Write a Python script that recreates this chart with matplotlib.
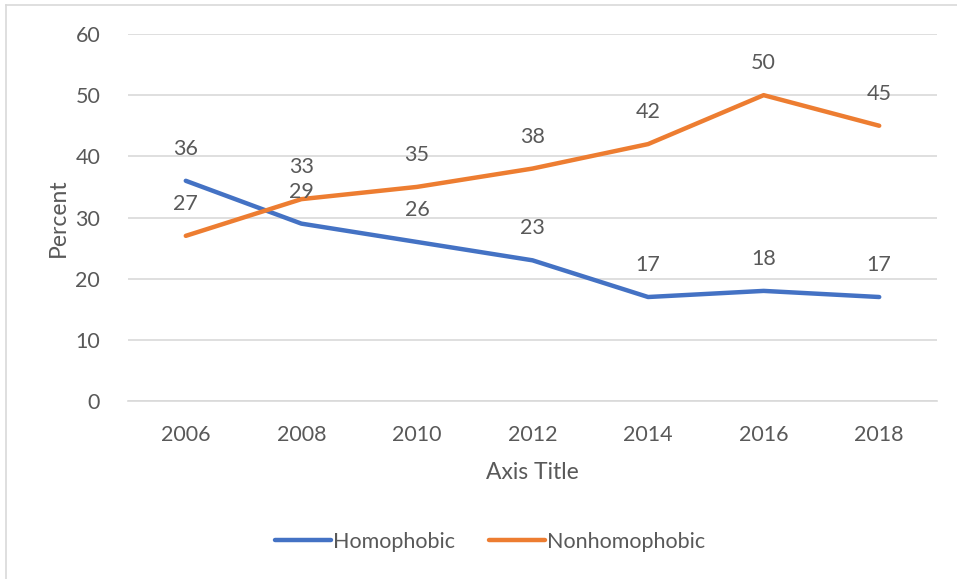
import matplotlib.pyplot as plt
from matplotlib.lines import Line2D

plt.rcParams['font.family'] = ['Lato', 'DejaVu Sans']

# data
years = ['2006', '2008', '2010', '2012', '2014', '2016', '2018']
homophobic = [36, 29, 26, 23, 17, 18, 17]
nonhomophobic = [27, 33, 35, 38, 42, 50, 45]

blue = '#4472C4'
orange = '#ED7D31'
txt = '#595959'
fs = 15.5

fig = plt.figure(figsize=(9.57, 5.79), dpi=100)
ax = fig.add_axes([128 / 957, 1 - 401 / 579, 809 / 957, 367 / 579])

x = list(range(len(years)))
ax.plot(x, homophobic, color=blue, lw=3.2, solid_capstyle='round', label='Homophobic', zorder=3)
ax.plot(x, nonhomophobic, color=orange, lw=3.2, solid_capstyle='round', label='Nonhomophobic', zorder=3)

for xi, v in zip(x, homophobic):
    ax.annotate(str(v), (xi, v), xytext=(0, 23), textcoords='offset points',
                ha='center', va='center', fontsize=fs, color=txt)
for xi, v in zip(x, nonhomophobic):
    ax.annotate(str(v), (xi, v), xytext=(0, 23), textcoords='offset points',
                ha='center', va='center', fontsize=fs, color=txt)

ax.set_xlim(-0.5, len(years) - 0.5)
ax.set_ylim(0, 60)
ax.set_yticks(range(0, 61, 10))
ax.set_xticks(x)
ax.set_xticklabels(years)
ax.grid(axis='y', color='#D9D9D9', lw=1.2)
ax.set_axisbelow(True)
for s in ['top', 'right', 'left']:
    ax.spines[s].set_visible(False)
ax.spines['bottom'].set_color('#D9D9D9')
ax.spines['bottom'].set_linewidth(1.2)
ax.tick_params(length=0, labelsize=fs, labelcolor=txt)
ax.tick_params(axis='x', pad=17)
ax.tick_params(axis='y', pad=20)

ax.set_xlabel('Axis Title', fontsize=16.5, color=txt)
ax.set_ylabel('Percent', fontsize=16.5, color=txt)
ax.xaxis.set_label_coords(0.5, -(462 - 401) / 367)
ax.yaxis.set_label_coords(-(128 - 69) / 809, 0.5)

handles = [Line2D([], [], color=blue, lw=3.2, solid_capstyle='round'),
           Line2D([], [], color=orange, lw=3.2, solid_capstyle='round')]
fig.legend(handles, ['Homophobic', 'Nonhomophobic'], loc='center',
           bbox_to_anchor=(490 / 957, 1 - 542 / 579), ncol=2, frameon=False,
           fontsize=fs, labelcolor=txt, handlelength=2.6, handletextpad=0.1,
           columnspacing=1.6)

# chart border (only left and top edges visible in the source)
fig.add_artist(Line2D([6 / 957, 6 / 957], [0, 1 - 5 / 579], color='#D9D9D9', lw=1.2))
fig.add_artist(Line2D([6 / 957, 1], [1 - 5 / 579, 1 - 5 / 579], color='#D9D9D9', lw=1.2))

fig.savefig('out.png', dpi=100)
